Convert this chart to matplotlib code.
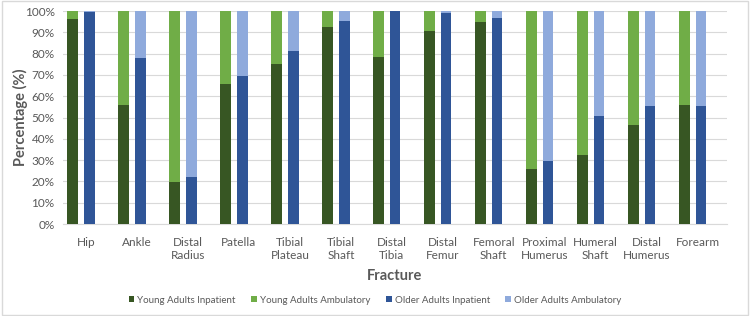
import numpy as np
import matplotlib.pyplot as plt
from matplotlib.patches import Rectangle

fractures = ["Hip", "Ankle", "Distal\nRadius", "Patella", "Tibial\nPlateau", "Tibial\nShaft",
             "Distal\nTibia", "Distal\nFemur", "Femoral\nShaft", "Proximal\nHumerus",
             "Humeral\nShaft", "Distal\nHumerus", "Forearm"]
young_inpatient = [96.2, 55.9, 19.9, 65.9, 75.3, 92.3, 78.6, 90.6, 94.8, 25.8, 32.4, 46.5, 55.7]
older_inpatient = [99.7, 77.9, 22.1, 69.6, 81.2, 95.5, 100.0, 98.9, 96.9, 29.6, 50.7, 55.6, 55.4]
young_ambulatory = [100 - v for v in young_inpatient]
older_ambulatory = [100 - v for v in older_inpatient]

c_yi, c_ya = "#375623", "#70AD47"
c_oi, c_oa = "#2F5597", "#8FAADC"
grey = "#595959"

plt.rcParams['font.family'] = ['Lato', 'DejaVu Sans']

fig = plt.figure(figsize=(7.5, 3.16), dpi=100)
ax = fig.add_axes([0.084, 0.291, 0.885, 0.674])

x = np.arange(len(fractures))
w = 0.21
xy = x - 0.265
xo = x + 0.065
ax.bar(xy, young_inpatient, w, color=c_yi, label="Young Adults Inpatient", zorder=3)
ax.bar(xy, young_ambulatory, w, bottom=young_inpatient, color=c_ya, label="Young Adults Ambulatory", zorder=3)
ax.bar(xo, older_inpatient, w, color=c_oi, label="Older Adults Inpatient", zorder=3)
ax.bar(xo, older_ambulatory, w, bottom=older_inpatient, color=c_oa, label="Older Adults Ambulatory", zorder=3)

ax.set_xlim(-0.45, 12.57)
ax.set_ylim(0, 100)
ax.set_yticks(np.arange(0, 101, 10))
ax.set_yticklabels([f"{v}%" for v in range(0, 101, 10)])
ax.set_xticks(x)
ax.set_xticklabels(fractures, linespacing=1.25)
ax.tick_params(length=0, labelsize=8.5, colors=grey)
ax.tick_params(axis='x', pad=9)
ax.tick_params(axis='y', pad=6)
ax.grid(axis='y', color="#d9d9d9", linewidth=0.8, zorder=0)
for s in ["top", "right", "left"]:
    ax.spines[s].set_visible(False)
ax.spines["bottom"].set_color("#d9d9d9")

ax.set_ylabel("Percentage (%)", fontsize=10.5, fontweight='bold', color=grey)
ax.yaxis.set_label_coords(-0.053, 0.5)
ax.set_xlabel("Fracture", fontsize=10.5, fontweight='bold', color=grey, labelpad=6)

fig.legend(loc='center', bbox_to_anchor=(0.5, 0.05), ncol=4, frameon=False,
           fontsize=7, labelcolor=grey, handlelength=0.6, handleheight=0.6,
           handletextpad=0.3, columnspacing=1.6)

fig.patches.append(Rectangle((0.002, 0.003), 0.995, 0.993, transform=fig.transFigure,
                             fill=False, edgecolor="#d9d9d9", linewidth=1))

fig.savefig("out.png", dpi=100)
